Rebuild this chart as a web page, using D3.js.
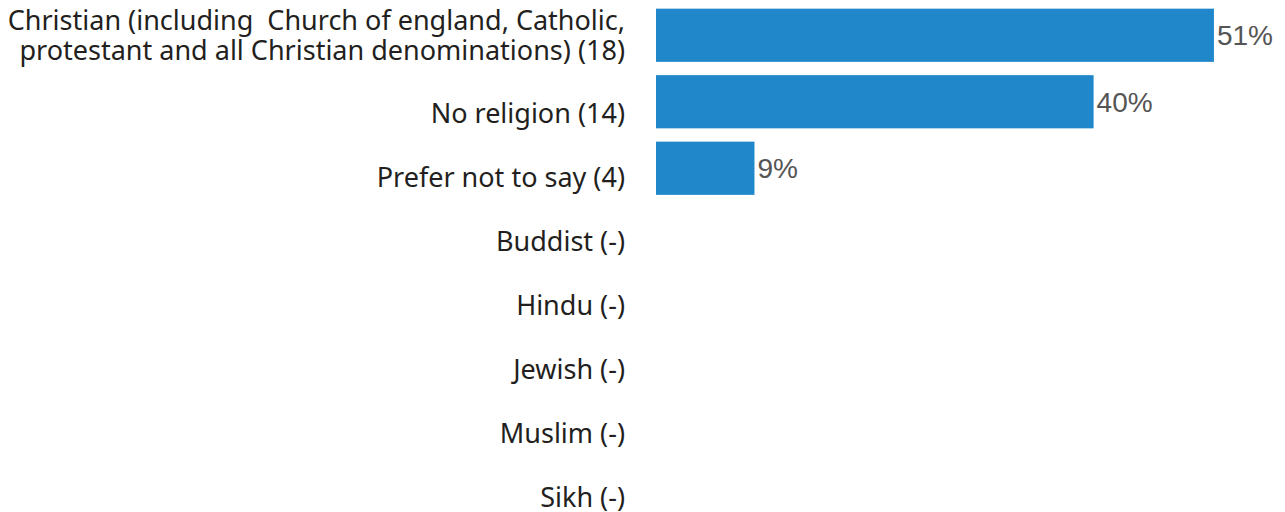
<!DOCTYPE html>
<html>
<head>
<meta charset="utf-8">
<script src="https://cdn.jsdelivr.net/npm/d3@7"></script>
<style>
  body { margin: 0; background: #fff; }
  svg { display: block; }
</style>
</head>
<body>
<svg id="chart" width="1285" height="512"></svg>
<script>
// categories (label lines) and values in percent (null = no bar)
var categories = ['christian', 'none', 'prefer', 'buddhist', 'hindu', 'jewish', 'muslim', 'sikh'];
var labels = [
	['Christian (including  Church of england, Catholic,', 'protestant and all Christian denominations) (18)'],
	['No religion (14)'],
	['Prefer not to say (4)'],
	['Buddist (-)'],
	['Hindu (-)'],
	['Jewish (-)'],
	['Muslim (-)'],
	['Sikh (-)']
];
var values = [51, 40, 9, null, null, null, null, null];
var valueLabels = ['51%', '40%', '9%', '', '', '', '', ''];

var svg = d3.select('#chart');

var x = d3.scaleLinear().domain([0, 100]).range([656, 1750]);
var yBar = d3.scaleBand().domain(categories).range([2, 534]).paddingInner(0.2).paddingOuter(0.1);
var yLabel = d3.scalePoint().domain(categories).range([49, 497]);

var rows = svg.selectAll('g.row')
	.data(categories)
	.enter().append('g')
	.attr('class', 'row');

// bars
rows.filter(function (d, i) { return values[i] != null; })
	.append('rect')
	.attr('x', x(0))
	.attr('y', function (d) { return yBar(d); })
	.attr('width', function (d) { return x(values[categories.indexOf(d)]) - x(0); })
	.attr('height', yBar.bandwidth())
	.style('fill', '#2088ca');

// value labels
rows.filter(function (d, i) { return values[i] != null; })
	.append('text')
	.attr('x', function (d) { return x(values[categories.indexOf(d)]) + 3; })
	.attr('y', function (d) { return yBar(d) + yBar.bandwidth() / 2; })
	.attr('dy', '0.36em')
	.style('font-family', '"Liberation Sans", Arial, sans-serif')
	.style('font-size', '28px')
	.style('font-weight', 300)
	.style('fill', '#555')
	.text(function (d) { return valueLabels[categories.indexOf(d)]; });

// category labels, right aligned
var lineH = 30;
rows.append('text')
	.attr('text-anchor', 'end')
	.attr('x', 625)
	.style('font-family', '"Noto Sans", sans-serif')
	.style('font-size', '27px')
	.style('white-space', 'pre')
	.style('fill', '#231f20')
	.each(function (d, i) {
		var lines = labels[i];
		var cy = lines.length > 1 ? yBar(d) + yBar.bandwidth() / 2 : yLabel(d);
		var t = d3.select(this);
		lines.forEach(function (s, j) {
			t.append('tspan')
				.attr('x', 625)
				.attr('y', cy + (j - (lines.length - 1) / 2) * lineH)
				.attr('dy', '0.36em')
				.text(s);
		});
	});
</script>
</body>
</html>
